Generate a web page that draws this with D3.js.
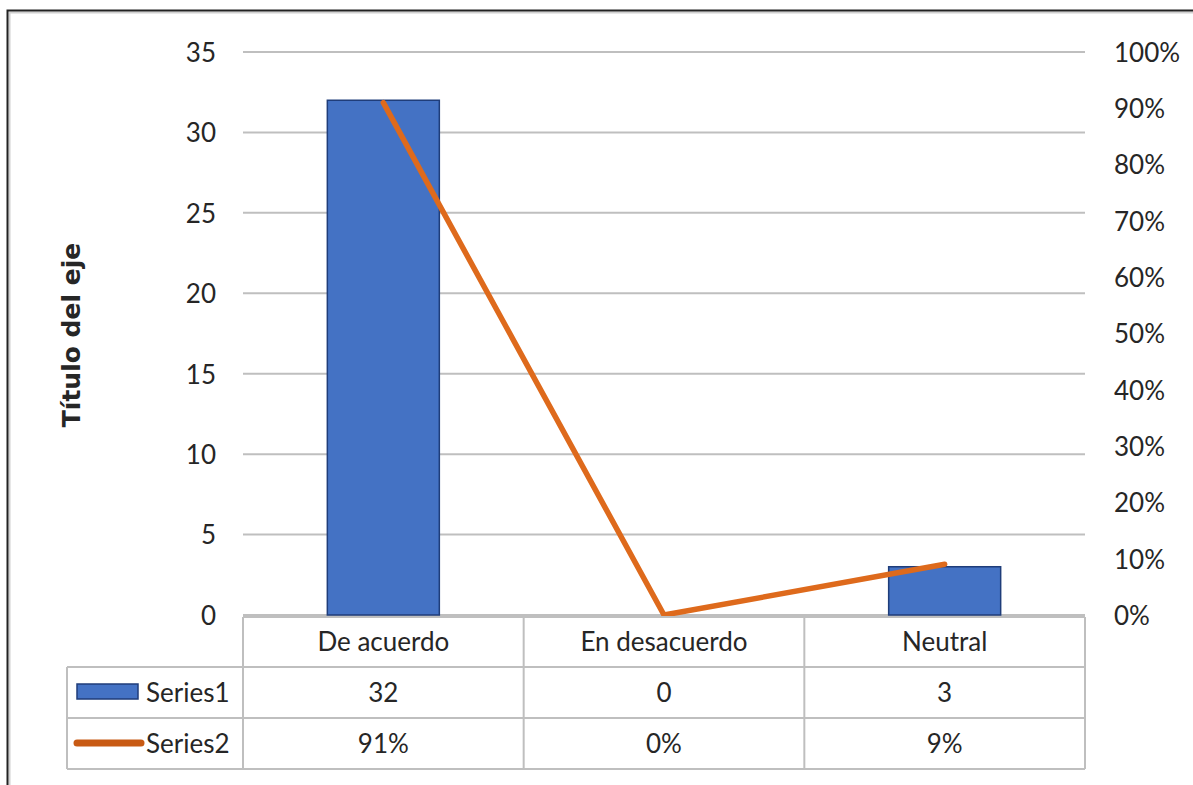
<!DOCTYPE html>
<html><head><meta charset="utf-8">
<script src="https://cdn.jsdelivr.net/npm/d3@7"></script>
<style>body{margin:0;background:#fff;} svg{display:block;}</style>
</head><body>
<svg id="c" width="1193" height="785"></svg>
<script>
const categories = ["De acuerdo", "En desacuerdo", "Neutral"];
const series1 = [32, 0, 3];
const series2 = [0.91, 0, 0.09];
const series1Labels = ["32", "0", "3"];
const series2Labels = ["91%", "0%", "9%"];
const leftTicks = [0, 5, 10, 15, 20, 25, 30, 35];
const rightTicks = [0, 0.1, 0.2, 0.3, 0.4, 0.5, 0.6, 0.7, 0.8, 0.9, 1.0];
const seriesNames = ["Series1", "Series2"];

const svg = d3.select("#c");
const font = "Lato, 'Open Sans', sans-serif";
const fs = 26;
const gridColor = "#BFBFBF";
const barFill = "#4472C4", barStroke = "#1F3D7A";
const lineColor = "#DE6A1C";

// frame
svg.append("rect").attr("x", 9.5).attr("y", 12.5).attr("width", 1200).attr("height", 800)
  .attr("fill", "none").attr("stroke", "#D0D0D0").attr("stroke-width", 2);
svg.append("rect").attr("x", 7.5).attr("y", 10.5).attr("width", 1200).attr("height", 800)
  .attr("fill", "none").attr("stroke", "#222").attr("stroke-width", 2);

const plotL = 243, plotR = 1085, plotT = 52, plotB = 615;
const x = d3.scaleBand().domain(categories).range([plotL, plotR]).paddingInner(0).paddingOuter(0);
const y = d3.scaleLinear().domain([0, 35]).range([plotB, plotT]);
const y2 = d3.scaleLinear().domain([0, 1]).range([plotB, plotT]);

// gridlines
svg.append("g").selectAll("line").data(leftTicks).join("line")
  .attr("x1", plotL).attr("x2", plotR)
  .attr("y1", d => y(d)).attr("y2", d => y(d))
  .attr("stroke", gridColor).attr("stroke-width", 2);

// left axis
const yAxis = d3.axisLeft(y).tickValues(leftTicks).tickSize(0).tickPadding(0);
const gL = svg.append("g").attr("transform", `translate(${plotL - 27},0)`).call(yAxis);
gL.select(".domain").remove();
gL.selectAll("text").attr("font-family", font).attr("font-size", fs).attr("fill", "#262626").attr("dy", "0.36em");

// right axis
const y2Axis = d3.axisRight(y2).tickValues(rightTicks).tickSize(0).tickPadding(0).tickFormat(d3.format(".0%"));
const gR = svg.append("g").attr("transform", `translate(1114,0)`).call(y2Axis);
gR.select(".domain").remove();
gR.selectAll("text").attr("font-family", font).attr("font-size", fs).attr("fill", "#262626").attr("dy", "0.36em");

// axis title
svg.append("text").attr("transform", `translate(80,335) rotate(-90)`)
  .attr("text-anchor", "middle").attr("font-family", "'DejaVu Sans', sans-serif")
  .attr("font-size", 25).attr("font-weight", 700).attr("fill", "#262626").text("Título del eje");

// bars
const bw = 112;
svg.append("g").selectAll("rect").data(series1).join("rect")
  .attr("x", (d, i) => x(categories[i]) + x.bandwidth() / 2 - bw / 2)
  .attr("width", bw)
  .attr("y", d => y(d)).attr("height", d => y(0) - y(d))
  .attr("fill", barFill).attr("stroke", barStroke).attr("stroke-width", 1.5);

// line
const line = d3.line().x((d, i) => x(categories[i]) + x.bandwidth() / 2).y(d => y2(d));
svg.append("path").datum(series2).attr("d", line)
  .attr("fill", "none").attr("stroke", lineColor).attr("stroke-width", 5.5)
  .attr("stroke-linecap", "round").attr("stroke-linejoin", "round");

// data table
const tblL = 67, rowH = [617, 667, 718, 769];
const tg = svg.append("g").attr("stroke", gridColor).attr("stroke-width", 2).attr("fill", "none");
tg.append("line").attr("x1", plotL).attr("x2", plotR).attr("y1", rowH[0]).attr("y2", rowH[0]);
tg.append("line").attr("x1", tblL).attr("x2", plotR).attr("y1", rowH[1]).attr("y2", rowH[1]);
tg.append("line").attr("x1", tblL).attr("x2", plotR).attr("y1", rowH[2]).attr("y2", rowH[2]);
tg.append("line").attr("x1", tblL).attr("x2", plotR).attr("y1", rowH[3]).attr("y2", rowH[3]);
tg.append("line").attr("x1", tblL).attr("x2", tblL).attr("y1", rowH[1]).attr("y2", rowH[3]);
const vx = [plotL].concat(categories.map(c => x(c) + x.bandwidth()));
tg.selectAll("line.v").data(vx).join("line").attr("class", "v")
  .attr("x1", d => d).attr("x2", d => d).attr("y1", rowH[0]).attr("y2", rowH[3]);

const cellText = (rows, rowIdx) => svg.append("g").selectAll("text").data(rows).join("text")
  .attr("x", (d, i) => x(categories[i]) + x.bandwidth() / 2)
  .attr("y", (rowH[rowIdx] + rowH[rowIdx + 1]) / 2)
  .attr("dy", "0.36em").attr("text-anchor", "middle")
  .attr("font-family", font).attr("font-size", fs).attr("fill", "#262626").text(d => d);
cellText(categories, 0);
cellText(series1Labels, 1);
cellText(series2Labels, 2);

// legend keys
svg.append("rect").attr("x", 77).attr("y", 684).attr("width", 61).attr("height", 15)
  .attr("fill", barFill).attr("stroke", barStroke).attr("stroke-width", 1.5);
svg.append("line").attr("x1", 77).attr("x2", 141).attr("y1", 743).attr("y2", 743)
  .attr("stroke", "#C85A14").attr("stroke-width", 7).attr("stroke-linecap", "round");
svg.append("g").selectAll("text").data(seriesNames).join("text")
  .attr("x", 146).attr("y", (d, i) => (rowH[i + 1] + rowH[i + 2]) / 2)
  .attr("dy", "0.36em").attr("font-family", font).attr("font-size", fs).attr("fill", "#262626").text(d => d);
</script>
</body></html>
